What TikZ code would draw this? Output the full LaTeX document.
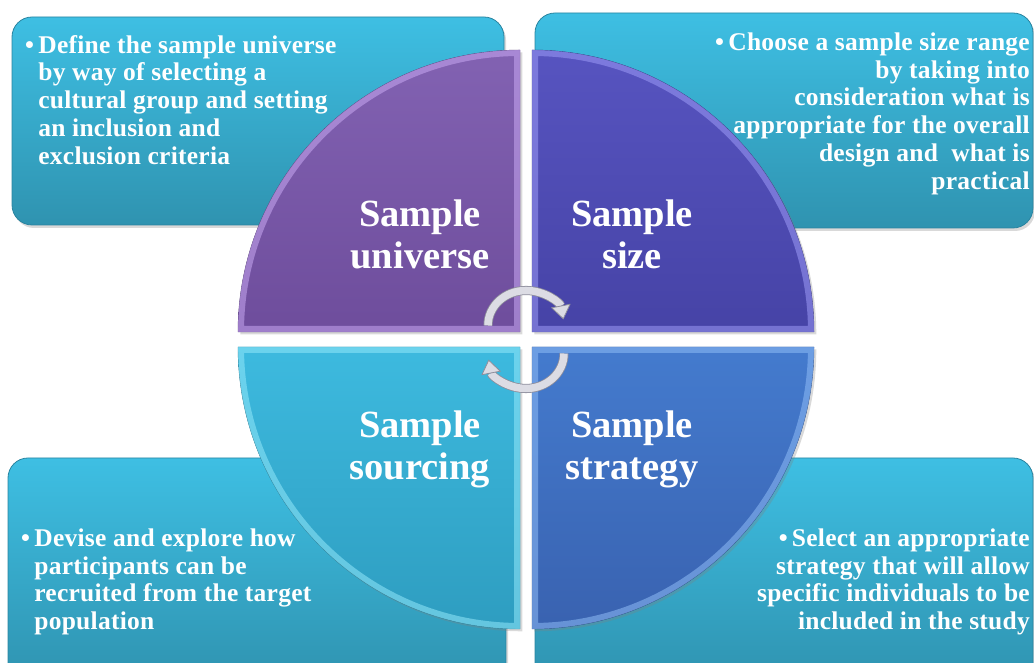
\documentclass[tikz,border=0pt]{standalone}
\usepackage{fontspec}
\setmainfont{Liberation Serif}
\usetikzlibrary{arrows.meta,shadows}

\definecolor{boxtop}{HTML}{3EBFE3}
\definecolor{boxbot}{HTML}{2F93B0}
\definecolor{boxline}{HTML}{2A84A0}
\definecolor{unitop}{HTML}{8262B2}
\definecolor{unibot}{HTML}{6E4D9C}
\definecolor{unilit}{HTML}{C8A8F2}
\definecolor{sizetop}{HTML}{5754C0}
\definecolor{sizebot}{HTML}{4643A6}
\definecolor{sizelit}{HTML}{9C9AF6}
\definecolor{srctop}{HTML}{3DBADF}
\definecolor{srcbot}{HTML}{2E9DC0}
\definecolor{srclit}{HTML}{92E8FA}
\definecolor{strtop}{HTML}{447BCE}
\definecolor{strbot}{HTML}{3962B0}
\definecolor{strlit}{HTML}{8EBBF6}
\definecolor{cyclefill}{HTML}{DCDCE4}
\definecolor{cycleedge}{HTML}{8E8E9C}

\begin{document}
\begin{tikzpicture}[x = 1pt, y = 1pt,
    infobox/.style = {rounded corners=20pt, top color=boxtop, bottom color=boxbot, draw=boxline, line width=0.8pt,
      drop shadow={shadow xshift=2pt, shadow yshift=-3pt, opacity=0.3}},
    infotext/.style = {text=white, font=\bfseries\fontsize{25.5}{27.7}\selectfont\addfontfeature{LetterSpace=1}, inner sep=0pt},
    quadtext/.style = {text=white, font=\bfseries\fontsize{38.5}{42}\selectfont, align=center, inner sep=0pt},
    cyclearrow/.style = {draw=cycleedge, line width=0.8pt, double=cyclefill, double distance=7.5pt,
      -{Triangle[length=14pt, width=20pt, line width=0.8pt, fill=cyclefill, color=cycleedge]}}]
    \useasboundingbox (0,0) rectangle (1034,663);
    \clip (0,0) rectangle (1034,663);

    % text boxes
    \path[infobox] (12,438) rectangle (504,646);
    \path[infobox] (535,435) rectangle (1033,650);
    \path[infobox] (8,-20) rectangle (506,205);
    \path[infobox] (535,-20) rectangle (1033,205);

    % quarters
    \coordinate (hub) at (526,323.5);
    \path[top color=unitop, bottom color=unibot, draw=unibot!70!black, drop shadow={opacity=0.3}]
      (520,331) -- (238,331) arc[start angle=180, end angle=90, radius=282] -- cycle;
    \begin{scope}
      \clip (520,331) -- (238,331) arc[start angle=180, end angle=90, radius=282] -- cycle;
      \draw[unilit, line width=12pt, opacity=0.55] (520,331) -- (238,331) arc[start angle=180, end angle=90, radius=282] -- cycle;
    \end{scope}
    \path[top color=sizetop, bottom color=sizebot, draw=sizebot!70!black, drop shadow={opacity=0.3}]
      (532,331) -- (532,613) arc[start angle=90, end angle=0, radius=282] -- cycle;
    \begin{scope}
      \clip (532,331) -- (532,613) arc[start angle=90, end angle=0, radius=282] -- cycle;
      \draw[sizelit, line width=12pt, opacity=0.55] (532,331) -- (532,613) arc[start angle=90, end angle=0, radius=282] -- cycle;
    \end{scope}
    \path[top color=srctop, bottom color=srcbot, draw=srcbot!70!black, drop shadow={opacity=0.3}]
      (520,316) -- (238,316) arc[start angle=180, end angle=270, radius=282] -- cycle;
    \begin{scope}
      \clip (520,316) -- (238,316) arc[start angle=180, end angle=270, radius=282] -- cycle;
      \draw[srclit, line width=12pt, opacity=0.55] (520,316) -- (238,316) arc[start angle=180, end angle=270, radius=282] -- cycle;
    \end{scope}
    \path[top color=strtop, bottom color=strbot, draw=strbot!70!black, drop shadow={opacity=0.3}]
      (532,316) -- (532,34) arc[start angle=270, end angle=360, radius=282] -- cycle;
    \begin{scope}
      \clip (532,316) -- (532,34) arc[start angle=270, end angle=360, radius=282] -- cycle;
      \draw[strlit, line width=12pt, opacity=0.55] (532,316) -- (532,34) arc[start angle=270, end angle=360, radius=282] -- cycle;
    \end{scope}

    % quarter labels
    \node[quadtext] (universe) at (420,429) {Sample\\universe};
    \node[quadtext] (size) at (632,429) {Sample\\size};
    \node[quadtext] (sourcing) at (420,214) {Sample\\sourcing};
    \node[quadtext] (strategy) at (632,214) {Sample\\strategy};

    % notes
    \node[infotext, anchor=north west] (universenote) at (25,629.3) {\begin{tabular}{@{}l@{\,}l@{}}
      \textbullet & Define the sample universe\\
      & by way of selecting a\\
      & cultural group and setting\\
      & an inclusion and\\
      & exclusion criteria
    \end{tabular}};
    \node[infotext, anchor=north east] (sizenote) at (1030,632) {\begin{tabular}{@{}r@{}}
      \textbullet\,Choose a sample size range\\
      by taking into\\
      consideration what is\\
      appropriate for the overall\\
      design and~ what is\\
      practical
    \end{tabular}};
    \node[infotext, anchor=north west] (sourcingnote) at (21,136) {\begin{tabular}{@{}l@{\,}l@{}}
      \textbullet & Devise and explore how\\
      & participants can be\\
      & recruited from the target\\
      & population
    \end{tabular}};
    \node[infotext, anchor=north east] (strategynote) at (1030,136) {\begin{tabular}{@{}r@{}}
      \textbullet\,Select an appropriate\\
      strategy that will allow\\
      specific individuals to be\\
      included in the study
    \end{tabular}};

    % cycle arrows
    \draw[cyclearrow] ([xshift=-38pt, yshift=14pt]hub) arc[start angle=180, end angle=10, x radius=38, y radius=35];
    \draw[cyclearrow] ([xshift=38pt, yshift=-14pt]hub) arc[start angle=0, end angle=-170, x radius=38, y radius=35];
\end{tikzpicture}
\end{document}
